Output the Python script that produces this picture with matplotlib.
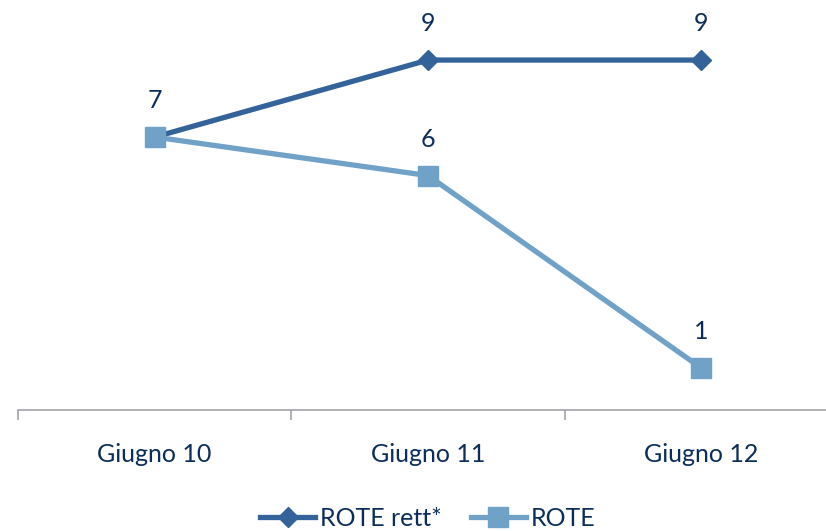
import matplotlib
matplotlib.use("Agg")
import matplotlib.pyplot as plt
from matplotlib import font_manager

categories = ["Giugno 10", "Giugno 11", "Giugno 12"]
rote_rett = [7, 9, 9]
rote = [7, 6, 1]
series_names = ["ROTE rett*", "ROTE"]

families = {f.name for f in font_manager.fontManager.ttflist}
font = "DejaVu Sans"
for cand in ["Lato", "Roboto"]:
    if cand in families:
        font = cand
        break
plt.rcParams["font.family"] = [font, "DejaVu Sans"]

text_color = "#0b2d5b"
dark = "#336399"
light = "#70a2c8"
axis_color = "#a3a3ad"
fs = 18

fig = plt.figure(figsize=(8.26, 5.31), dpi=100)
ax = fig.add_axes([18 / 826, (531 - 410) / 531, 820 / 826, 410 / 531])

x = list(range(len(categories)))
ax.plot(x, rote_rett, color=dark, lw=3.8, marker="D", markersize=10.2,
        label=series_names[0], zorder=3)
ax.plot(x, rote, color=light, lw=3.8, marker="s", markersize=15,
        label=series_names[1], zorder=4)

for xi, v in zip(x, rote_rett):
    ax.annotate(f"{v:g}", (xi, v), xytext=(0, 26), textcoords="offset points",
                ha="center", va="center", fontsize=fs, color=text_color)
for xi, v in zip(x[1:], rote[1:]):
    ax.annotate(f"{v:g}", (xi, v), xytext=(0, 26), textcoords="offset points",
                ha="center", va="center", fontsize=fs, color=text_color)

ax.set_xlim(-0.5, 2.5)
ax.set_ylim(-0.09, 10.56)

for s in ["top", "right", "left"]:
    ax.spines[s].set_visible(False)
ax.spines["bottom"].set_color(axis_color)
ax.spines["bottom"].set_linewidth(1.2)
ax.set_yticks([])

ax.set_xticks([-0.5, 0.5, 1.5, 2.5])
ax.set_xticklabels([])
ax.tick_params(axis="x", direction="out", length=7, width=1.2, color=axis_color)
ax.set_xticks(x, minor=True)
ax.set_xticklabels(categories, minor=True, fontsize=fs, color=text_color)
ax.tick_params(axis="x", which="minor", length=0, pad=24)

leg = fig.legend(loc="center", bbox_to_anchor=(0.518, 1 - 518 / 531), ncol=2,
                 frameon=False, fontsize=fs, handlelength=2.2, handletextpad=0.2,
                 columnspacing=1.15)
for t in leg.get_texts():
    t.set_color(text_color)

fig.savefig("out.png", dpi=100)
